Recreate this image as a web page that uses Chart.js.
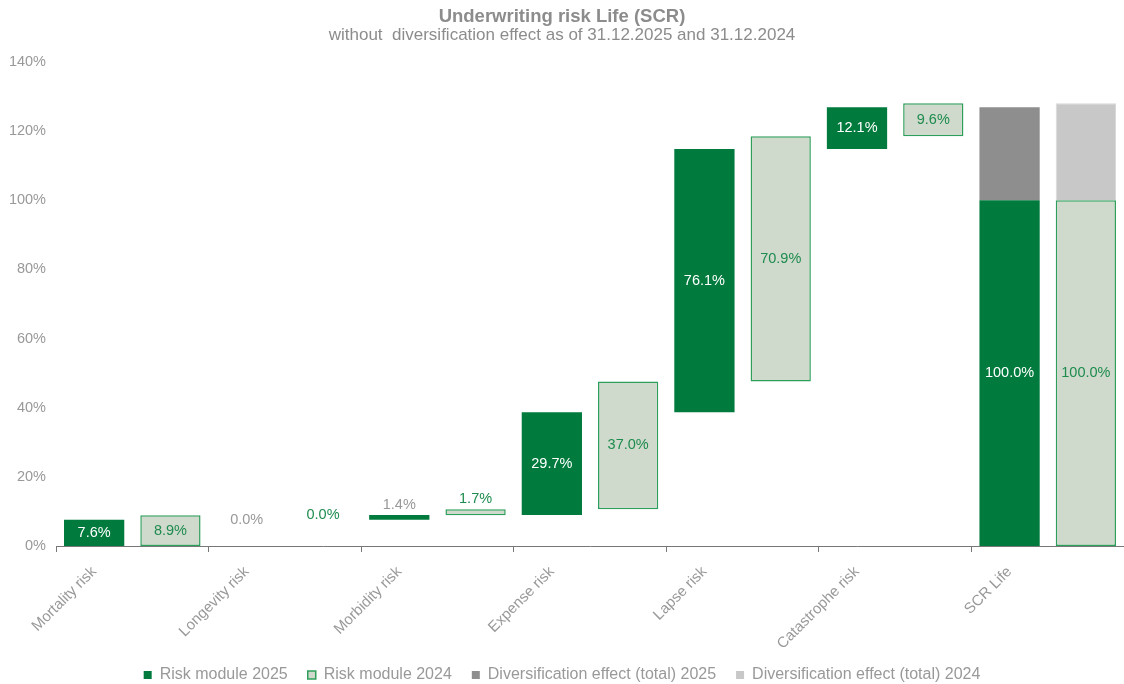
<!DOCTYPE html>
<html>
<head>
    <title>Underwriting risk Life (SCR)</title>
    <style>
        body { margin: 0; background: #fff; }
        #chart { width: 1124px; height: 684px; }
    </style>
</head>
<body>
    <div id="chart">
        <canvas id="myChart"></canvas>
    </div>
</body>
<script src="https://cdn.jsdelivr.net/npm/chart.js@4/dist/chart.umd.min.js"></script>
<script>
    const categories = ['Mortality risk', 'Longevity risk', 'Morbidity risk', 'Expense risk', 'Lapse risk', 'Catastrophe risk', 'SCR Life'];
    const module2025 = [7.6, 0.0, 1.4, 29.7, 76.1, 12.1, 100.0];
    const module2024 = [8.9, 0.0, 1.7, 37.0, 70.9, 9.6, 100.0];
    const divEffect2025 = [null, null, null, null, null, null, 26.9];
    const divEffect2024 = [null, null, null, null, null, null, 28.1];
    const yTicks = [0, 20, 40, 60, 80, 100, 120, 140];

    const darkGreen = '#007A3D';
    const lightFill = '#CFD9CC';
    const lineGreen = '#2E9E5B';
    const textGreen = '#1E8C4E';
    const grey = '#999999';
    const fontFam = '"Liberation Sans", Arial, sans-serif';

    // every category gets two slots: first 2025, then 2024
    let slotLabels = [];
    let data2025 = [];
    let data2024 = [];
    let div2025 = [];
    let div2024 = [];
    let run25 = 0;
    let run24 = 0;
    for (let i = 0; i < categories.length; i++) {
        slotLabels.push(categories[i], '');
        let last = i == categories.length - 1;
        let s25 = last ? 0 : run25;
        let s24 = last ? 0 : run24;
        data2025.push([s25, s25 + module2025[i]], null);
        data2024.push(null, [s24, s24 + module2024[i]]);
        div2025.push(divEffect2025[i] == null ? null : [module2025[i], module2025[i] + divEffect2025[i]], null);
        div2024.push(null, divEffect2024[i] == null ? null : [module2024[i], module2024[i] + divEffect2024[i]]);
        if (!last) {
            run25 += module2025[i];
            run24 += module2024[i];
        }
    }

    const valueLabels = {
        id: 'valueLabels',
        afterDatasetsDraw(chart) {
            const c = chart.ctx;
            c.save();
            c.font = '14.5px ' + fontFam;
            c.textAlign = 'center';
            c.textBaseline = 'middle';
            [0, 1].forEach(function (d) {
                const meta = chart.getDatasetMeta(d);
                meta.data.forEach(function (bar, idx) {
                    const raw = chart.data.datasets[d].data[idx];
                    if (raw == null) return;
                    const v = raw[1] - raw[0];
                    const txt = v.toFixed(1) + '%';
                    const top = Math.min(bar.y, bar.base);
                    const bottom = Math.max(bar.y, bar.base);
                    let y;
                    if (v >= 5) {
                        y = (top + bottom) / 2;
                        c.fillStyle = d == 0 ? '#ffffff' : textGreen;
                    } else if (v == 0) {
                        y = top;
                        c.fillStyle = d == 0 ? grey : textGreen;
                    } else {
                        y = top - 10;
                        c.fillStyle = d == 0 ? grey : textGreen;
                    }
                    c.fillText(txt, bar.x, y);
                });
            });
            c.restore();
        }
    };

    const ctx = document.getElementById('myChart').getContext('2d');
    const myChart = new Chart(ctx, {
        type: 'bar',
        data: {
            labels: slotLabels,
            datasets: [{
                label: 'Risk module 2025',
                data: data2025,
                backgroundColor: darkGreen,
                borderColor: darkGreen,
                borderWidth: 0,
                borderSkipped: false
            }, {
                label: 'Risk module 2024',
                data: data2024,
                backgroundColor: lightFill,
                borderColor: lineGreen,
                borderWidth: function (c) {
                    const r = c.raw;
                    return r && r[1] - r[0] > 0 ? 1.5 : 0;
                },
                borderSkipped: false
            }, {
                label: 'Diversification effect (total) 2025',
                data: div2025,
                backgroundColor: '#8E8E8E',
                borderWidth: 0
            }, {
                label: 'Diversification effect (total) 2024',
                data: div2024,
                backgroundColor: '#C8C8C8',
                borderColor: '#D8D8D8',
                borderWidth: 1,
                borderSkipped: 'bottom'
            }]
        },
        options: {
            responsive: true,
            maintainAspectRatio: false,
            animation: false,
            grouped: false,
            barPercentage: 0.79,
            categoryPercentage: 1.0,
            layout: { padding: { top: 0, right: 0, left: 0, bottom: -9 } },
            scales: {
                x: {
                    grid: {
                        offset: true,
                        drawOnChartArea: false,
                        tickLength: 6,
                        tickColor: function (c) { return c.index % 2 == 0 ? '#777777' : 'rgba(0,0,0,0)'; }
                    },
                    border: { color: '#777777', width: 1 },
                    ticks: {
                        autoSkip: false,
                        maxRotation: 45,
                        minRotation: 45,
                        padding: 11,
                        color: grey,
                        font: { family: fontFam, size: 15 }
                    },
                    afterFit: function (axis) { axis.height = 101; }
                },
                y: {
                    min: 0,
                    max: 140,
                    grid: { display: false },
                    border: { display: false },
                    afterBuildTicks: function (axis) { axis.ticks = yTicks.map(function (v) { return { value: v }; }); },
                    ticks: {
                        color: grey,
                        padding: 2,
                        font: { family: fontFam, size: 14.5 },
                        callback: function (v) { return v + '%'; }
                    },
                    afterFit: function (axis) { axis.width = 56; }
                }
            },
            plugins: {
                title: {
                    display: true,
                    text: 'Underwriting risk Life (SCR)',
                    color: '#8C8C8C',
                    font: { family: fontFam, size: 18.5, weight: 'bold', lineHeight: 1.0 },
                    padding: { top: 7.5, bottom: 0 }
                },
                subtitle: {
                    display: true,
                    text: 'without  diversification effect as of 31.12.2025 and 31.12.2024',
                    color: '#8C8C8C',
                    font: { family: fontFam, size: 17, lineHeight: 1.0 },
                    padding: { top: 1, bottom: 18 }
                },
                legend: {
                    position: 'bottom',
                    labels: {
                        boxWidth: 8,
                        boxHeight: 8,
                        padding: 20,
                        color: grey,
                        font: { family: fontFam, size: 16 },
                        generateLabels: function (chart) {
                            const items = Chart.defaults.plugins.legend.labels.generateLabels(chart);
                            items.forEach(function (it, i) {
                                it.lineWidth = i == 1 ? 1.5 : 0;
                                it.strokeStyle = i == 1 ? lineGreen : it.fillStyle;
                            });
                            return items;
                        }
                    }
                },
                tooltip: { enabled: false }
            }
        },
        plugins: [valueLabels]
    });
</script>
</html>
